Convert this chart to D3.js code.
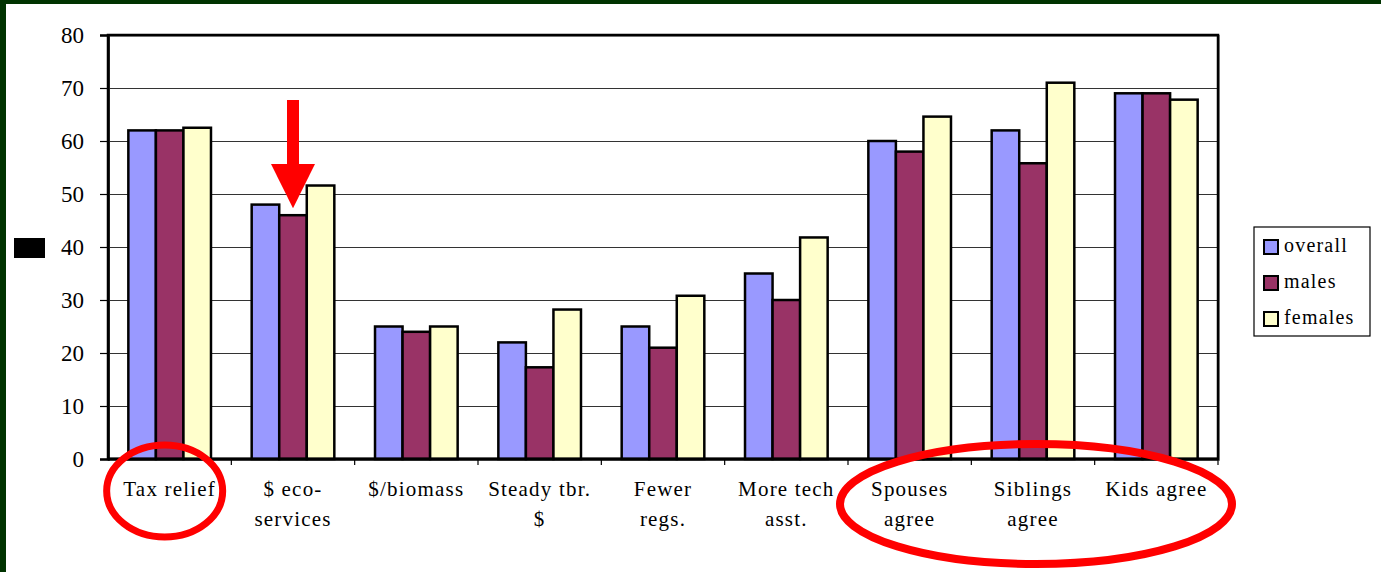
<!DOCTYPE html>
<html>
<head>
<meta charset="utf-8">
<script src="https://cdn.jsdelivr.net/npm/d3@7"></script>
<style>
  html, body { margin: 0; padding: 0; background: #fff; }
  svg { display: block; font-family: "Liberation Serif", "Times New Roman", serif; }
</style>
</head>
<body>
<div class="chart"></div>
<script>
// chart data
var categories = ["Tax relief", "$ eco-|services", "$/biomass", "Steady tbr.|$", "Fewer|regs.",
                  "More tech|asst.", "Spouses|agree", "Siblings|agree", "Kids agree"];
var seriesNames = ["overall", "males", "females"];
var overall = [62, 48, 25, 22, 25, 35, 60, 62, 69];
var males   = [62, 46, 24, 17.3, 21, 30, 58, 55.8, 69];
var females = [62.5, 51.6, 25, 28.2, 30.8, 41.8, 64.6, 71, 67.8];
var yTicks = [0, 10, 20, 30, 40, 50, 60, 70, 80];

var colors = { overall: "#9999ff", males: "#993366", females: "#ffffcc" };

var width = 1381,
    height = 572,
    margin = { top: 35, right: 163, bottom: 113, left: 108 };

var svg = d3.select(".chart").append("svg")
    .attr("width", width)
    .attr("height", height);

// green frame
svg.append("rect").attr("x", 0).attr("y", 0).attr("width", width).attr("height", 4).attr("fill", "#003300");
svg.append("rect").attr("x", 0).attr("y", 0).attr("width", 6).attr("height", height).attr("fill", "#003300");

var x0 = d3.scaleBand()
    .domain(d3.range(categories.length))
    .range([margin.left, width - margin.right]);

var x1 = d3.scaleBand()
    .domain(seriesNames)
    .range([x0.bandwidth() * 0.165, x0.bandwidth() * 0.835]);

var y = d3.scaleLinear()
    .domain([0, 80])
    .range([height - margin.bottom, margin.top]);

var rows = categories.map(function(c, i) {
  return { i: i, overall: overall[i], males: males[i], females: females[i] };
});

// gridlines
svg.append("g")
    .attr("class", "grid")
    .attr("transform", "translate(" + margin.left + ",0)")
    .call(d3.axisLeft(y).tickValues(yTicks).tickSize(-(width - margin.left - margin.right)).tickFormat(""))
    .call(function(g) {
      g.select(".domain").remove();
      g.selectAll("line").attr("stroke", "#333").attr("stroke-width", 1.2);
    });

// plot border (with soft shadow)
svg.append("rect")
    .attr("x", margin.left + 1).attr("y", margin.top + 1)
    .attr("width", x0.range()[1] - margin.left).attr("height", y(0) - margin.top)
    .attr("fill", "none").attr("stroke", "#999").attr("stroke-width", 2);
svg.append("rect")
    .attr("x", margin.left).attr("y", margin.top)
    .attr("width", x0.range()[1] - margin.left).attr("height", y(0) - margin.top)
    .attr("fill", "none").attr("stroke", "#000").attr("stroke-width", 2.5);

// bars
var groups = svg.append("g").selectAll("g")
    .data(rows)
    .join("g")
    .attr("transform", function(d) { return "translate(" + x0(d.i) + ",0)"; });

groups.selectAll("rect")
    .data(function(d) { return seriesNames.map(function(s) { return { key: s, value: d[s] }; }); })
    .join("rect")
    .attr("x", function(d) { return x1(d.key); })
    .attr("y", function(d) { return y(d.value); })
    .attr("width", x1.bandwidth())
    .attr("height", function(d) { return y(0) - y(d.value); })
    .attr("fill", function(d) { return colors[d.key]; })
    .attr("stroke", "#000")
    .attr("stroke-width", 2.5);

// y axis
var yAxis = svg.append("g")
    .attr("transform", "translate(" + margin.left + ",0)")
    .call(d3.axisLeft(y).tickValues(yTicks).tickSize(8).tickPadding(16));
yAxis.select(".domain").attr("stroke", "#000").attr("stroke-width", 2.5);
yAxis.selectAll(".tick line").attr("stroke", "#000").attr("stroke-width", 1.2);
yAxis.selectAll("text")
    .attr("font-family", "Liberation Serif, serif")
    .attr("font-size", 23)
    .attr("fill", "#000");

// x axis line + ticks between categories
var xAxis = svg.append("g")
    .attr("transform", "translate(0," + y(0) + ")");
xAxis.append("line")
    .attr("x1", margin.left).attr("x2", x0.range()[1])
    .attr("stroke", "#000").attr("stroke-width", 3);
xAxis.selectAll(".xt")
    .data(d3.range(1, categories.length + 1))
    .join("line")
    .attr("class", "xt")
    .attr("x1", function(i) { return margin.left + i * x0.step(); })
    .attr("x2", function(i) { return margin.left + i * x0.step(); })
    .attr("y1", 0).attr("y2", 6)
    .attr("stroke", "#000").attr("stroke-width", 1.2);

// category labels
var labels = xAxis.selectAll(".xl")
    .data(categories)
    .join("text")
    .attr("class", "xl")
    .attr("x", function(d, i) { return x0(i) + x0.bandwidth() / 2; })
    .attr("y", 37)
    .attr("text-anchor", "middle")
    .attr("font-size", 21)
    .attr("letter-spacing", 1.2)
    .attr("fill", "#000");
labels.selectAll("tspan")
    .data(function(d) { return d.split("|"); })
    .join("tspan")
    .attr("x", function() { return d3.select(this.parentNode).attr("x"); })
    .attr("dy", function(d, j) { return j === 0 ? 0 : 30; })
    .text(function(d) { return d; });

// legend
var legend = svg.append("g").attr("transform", "translate(1254,227)");
legend.append("rect")
    .attr("width", 116).attr("height", 109)
    .attr("fill", "#fff").attr("stroke", "#000").attr("stroke-width", 1.2);
var items = legend.selectAll(".li")
    .data(seriesNames)
    .join("g")
    .attr("class", "li")
    .attr("transform", function(d, i) { return "translate(10," + (13 + i * 36) + ")"; });
items.append("rect")
    .attr("width", 14).attr("height", 14)
    .attr("fill", function(d) { return colors[d]; })
    .attr("stroke", "#000").attr("stroke-width", 2);
items.append("text")
    .attr("x", 20).attr("y", 12)
    .attr("font-size", 20)
    .attr("letter-spacing", 1.2)
    .attr("fill", "#000")
    .text(function(d) { return d; });

// black block left of axis
svg.append("rect").attr("x", 14).attr("y", 238).attr("width", 31).attr("height", 20).attr("fill", "#000");

// red annotations
var ax = x0(1) + x1("males") + x1.bandwidth() / 2;
svg.append("rect")
    .attr("x", ax - 6).attr("y", 100).attr("width", 12).attr("height", 66)
    .attr("fill", "#ff0000");
svg.append("path")
    .attr("d", "M" + (ax - 22) + ",164 L" + (ax + 22) + ",164 L" + ax + "," + (y(males[1]) - 7) + " Z")
    .attr("fill", "#ff0000");

svg.append("ellipse")
    .attr("cx", x0(0) + x0.bandwidth() / 2 - 5).attr("cy", 491)
    .attr("rx", 58).attr("ry", 46)
    .attr("fill", "none").attr("stroke", "#ff0000").attr("stroke-width", 7);

svg.append("ellipse")
    .attr("cx", x0(7) + x0.bandwidth() / 2 + 3).attr("cy", 504)
    .attr("rx", 196).attr("ry", 60)
    .attr("fill", "none").attr("stroke", "#ff0000").attr("stroke-width", 8);
</script>
</body>
</html>
